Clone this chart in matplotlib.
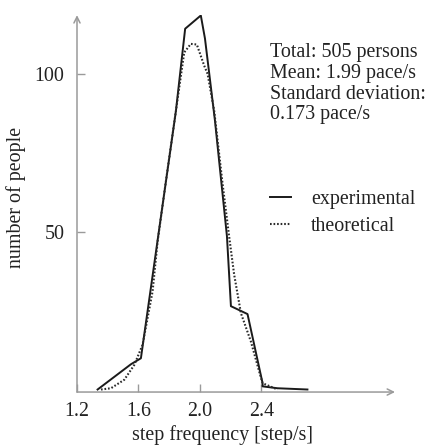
import matplotlib
matplotlib.use("Agg")
import matplotlib.pyplot as plt

plt.rcParams['font.family'] = ['Liberation Serif', 'DejaVu Serif']
plt.rcParams['font.size'] = 14.4

# experimental curve
exp_x = [1.334, 1.551, 1.616, 1.844, 1.904, 2.006, 2.033, 2.098, 2.176,
         2.202, 2.310, 2.408, 2.408, 2.505, 2.700]
exp_y = [0, 8.0, 9.9, 88.3, 114.3, 118.5, 111.2, 85.2, 48.6,
         26.4, 23.9, 2.0, 1.0, 0.4, 0]

# theoretical curve
theo_x = [1.356, 1.421, 1.508, 1.573, 1.627, 1.692, 1.725, 1.779, 1.844,
          1.898, 1.941, 1.980, 2.028, 2.050, 2.093, 2.148, 2.190, 2.223,
          2.267, 2.332, 2.386, 2.408, 2.505]
theo_y = [0, 0.4, 3.1, 7.8, 14.2, 31.1, 47.0, 66.1, 88.3,
          106.8, 109.5, 109.3, 102.6, 100.0, 88.3, 65.0, 48.6, 36.4,
          24.2, 15.2, 5.7, 2.0, 0]

x_ticks = [1.2, 1.6, 2.0, 2.4]
x_tick_labels = ['1.2', '1.6', '2.0', '2.4']
y_ticks = [50, 100]

info_text = "Total: 505 persons\nMean: 1.99 pace/s\nStandard deviation:\n0.173 pace/s"

fig = plt.figure(figsize=(4.28, 4.46), dpi=100)
ax = fig.add_axes([0.1799, 0.121, 0.743, 0.845])

ax.plot(exp_x, exp_y, color='#1a1a1a', lw=1.4, label='experimental')
ax.plot(theo_x, theo_y, color='#2a2a2a', lw=1.5, linestyle=(0, (0.8, 0.9)),
        label='theoretical')

ax.set_xlim(1.2, 3.27)
ax.set_ylim(-0.8, 118.6)

for s in ax.spines.values():
    s.set_visible(False)

axis_col = '#9a9a9a'
ax.annotate('', xy=(1, 0), xytext=(0, 0), xycoords='axes fraction',
            arrowprops=dict(arrowstyle='->', color=axis_col, lw=1.1,
                            shrinkA=0, shrinkB=0, mutation_scale=11))
ax.annotate('', xy=(0, 1), xytext=(0, 0), xycoords='axes fraction',
            arrowprops=dict(arrowstyle='->', color=axis_col, lw=1.1,
                            shrinkA=0, shrinkB=0, mutation_scale=11))

ax.set_xticks(x_ticks)
ax.set_xticklabels(x_tick_labels)
ax.set_yticks(y_ticks)
ax.tick_params(direction='in', length=6, width=1, color=axis_col,
               labelsize=14.4, labelcolor='#222222')
ax.tick_params(axis='x', pad=7)
ax.tick_params(axis='y', pad=9)

ax.set_xlabel('step frequency [step/s]', color='#222222')
ax.xaxis.set_label_coords(0.456, -0.087)
ax.set_ylabel('number of people', color='#222222')
ax.yaxis.set_label_coords(-0.16, 0.517)

ax.text(0.607, 0.925, info_text, transform=ax.transAxes, ha='left', va='top',
        linespacing=1.12, color='#222222')

ax.legend(loc='upper left', bbox_to_anchor=(0.607, 0.537), frameon=False,
          borderpad=0, borderaxespad=0, handlelength=1.03,
          handletextpad=1.03, labelspacing=0.43, labelcolor='#222222')

fig.savefig('out.png', dpi=100)
